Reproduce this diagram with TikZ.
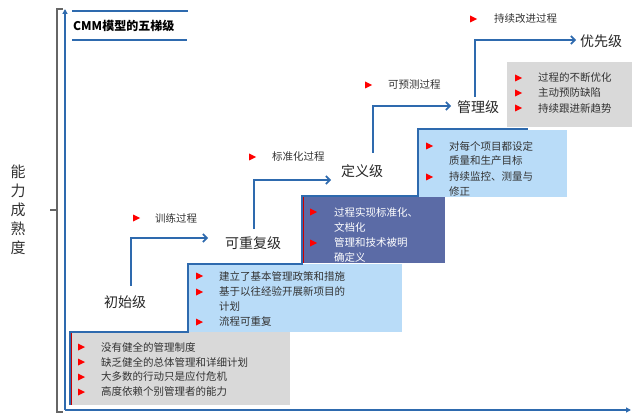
\documentclass[tikz,border=0pt]{standalone}
\usepackage{fontspec}
\setmainfont{Noto Sans CJK SC}
\usetikzlibrary{arrows.meta}
\definecolor{axblue}{HTML}{2E6AAE}
\definecolor{lblue}{HTML}{B9DCF8}
\definecolor{dblue}{HTML}{5B6BA6}
\definecolor{lgray}{HTML}{D9D9D9}
\tikzset{
  ax/.style={axblue,line width=1.4pt,-{Triangle[length=5pt,width=5pt]}},
  stepar/.style={axblue,line width=1.6pt,-{Straight Barb[length=4pt,width=8pt]}},
  lvl/.style={font=\fontsize{14}{15}\selectfont,text=black!85,inner sep=0pt},
  bl/.style={font=\fontsize{10.5}{12}\selectfont,text=black!80,anchor=west,inner sep=0pt},
}
\newcommand{\rtri}[2]{\fill[red] (#1-3,#2-3.5) -- (#1+4,#2) -- (#1-3,#2+3.5) -- cycle;}
\begin{document}
\begin{tikzpicture}[x=1pt,y=-1pt]
\useasboundingbox (0,0) rectangle (643,417);
% bracket
\draw[gray!80!black,line width=1.6pt] (63,9) -- (57,9) -- (57,412) -- (63,412);
\draw[gray!80!black,line width=1.6pt] (57,210) -- (50,210);
\node[font=\fontsize{15}{19}\selectfont,text=black!80,align=center,inner sep=0pt] (yl) at (18,210) {能\\力\\成\\熟\\度};
% axes
\coordinate (o) at (65,410);
\coordinate (yt) at (65,9);
\coordinate (xr) at (631,410);
\draw[ax] (o) -- (yt);
\draw[ax] (o) -- (xr);
% title
\draw[axblue,line width=1.2pt] (72,11) -- (188,11);
\draw[axblue,line width=1.2pt] (72,40) -- (187,40);
\node[font=\bfseries\fontsize{12}{13}\selectfont,anchor=west,inner sep=0pt] (title) at (73,26) {CMM模型的五梯级};
% boxes
\fill[lgray] (72,332) rectangle (290,405);
\fill[lblue] (188,264) rectangle (402,332);
\fill[dblue] (302,196) rectangle (445,263);
\fill[lblue] (418,130) rectangle (567,197);
\fill[lgray] (507,62) rectangle (632,127);
\draw[red!80!black,line width=1pt] (71,332) -- (71,405);
\draw[red!80!black,line width=1pt] (303,196) -- (303,263);
\draw[axblue,line width=1.2pt] (70,405) -- (70,332) -- (188,332) -- (188,264) -- (302,264) -- (302,196) -- (418,196) -- (418,129) -- (528,129);
% levels
\node[lvl] (l1) at (125,302) {初始级};
\node[lvl] (l2) at (253,243) {可重复级};
\node[lvl] (l3) at (362,171) {定义级};
\node[lvl] (l4) at (478,107) {管理级};
\node[lvl] (l5) at (601,41) {优先级};
\draw[stepar] (131,286) -- (131,238) -- (208,238);
\draw[stepar] (254,229) -- (254,180) -- (331,180);
\draw[stepar] (373,153) -- (373,106) -- (451,106);
\draw[stepar] (475,97) -- (475,40) -- (576,40);
% process labels
\rtri{136}{218}\node[bl] (p1) at (155,218) {训练过程};
\rtri{252}{157}\node[bl] (p2) at (272,157) {标准化过程};
\rtri{368}{85}\node[bl] (p3) at (388,85) {可预测过程};
\rtri{473}{19}\node[bl] (p4) at (494,19) {持续改进过程};
% box1
\rtri{81}{347}\node[bl] (b11) at (101,347) {没有健全的管理制度};
\rtri{81}{362}\node[bl] (b12) at (101,362) {缺乏健全的总体管理和详细计划};
\rtri{81}{377}\node[bl] (b13) at (101,377) {大多数的行动只是应付危机};
\rtri{81}{392}\node[bl] (b14) at (101,392) {高度依赖个别管理者的能力};
% box2
\rtri{199}{276}\node[bl] (b21) at (219,276) {建立了基本管理政策和措施};
\rtri{199}{292}\node[bl] (b22) at (219,292) {基于以往经验开展新项目的};
\node[bl] (b23) at (219,307) {计划};
\rtri{199}{322}\node[bl] (b24) at (219,322) {流程可重复};
% box3
\rtri{313}{212}\node[bl,text=white] (b31) at (334,212) {过程实现标准化、};
\node[bl,text=white] (b32) at (334,227) {文档化};
\rtri{313}{243}\node[bl,text=white] (b33) at (334,243) {管理和技术被明};
\node[bl,text=white] (b34) at (334,257) {确定义};
% box4
\rtri{429}{146}\node[bl] (b41) at (449,146) {对每个项目都设定};
\node[bl] (b42) at (449,161) {质量和生产目标};
\rtri{429}{177}\node[bl] (b43) at (449,177) {持续监控、测量与};
\node[bl] (b44) at (449,192) {修正};
% box5
\rtri{518}{78}\node[bl] (b51) at (538,78) {过程的不断优化};
\rtri{518}{93}\node[bl] (b52) at (538,93) {主动预防缺陷};
\rtri{518}{108}\node[bl] (b53) at (538,108) {持续跟进新趋势};
\end{tikzpicture}
\end{document}
